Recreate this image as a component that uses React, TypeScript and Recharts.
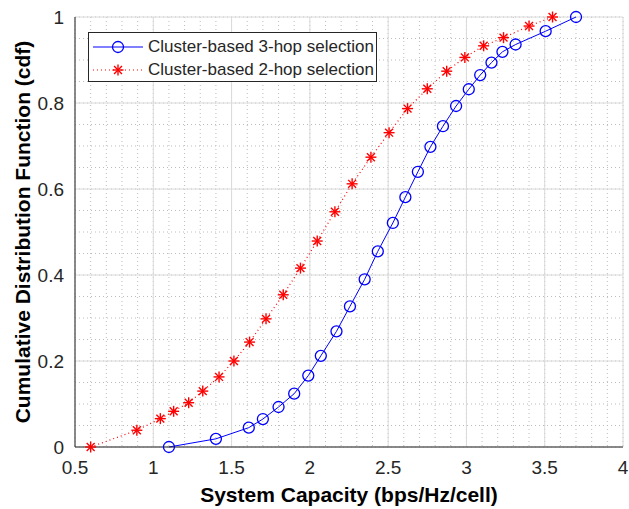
import React from "react";
import { LineChart, Line, XAxis, YAxis, CartesianGrid } from "recharts";

// Series values
const hop3Capacity = [1.1, 1.4, 1.61, 1.7, 1.8, 1.9, 1.99, 2.07, 2.17, 2.256, 2.35, 2.434, 2.53, 2.61, 2.69, 2.77, 2.85, 2.934, 3.015, 3.088, 3.16, 3.23, 3.314, 3.506, 3.7];
const hop3Cdf = [0, 0.019, 0.045, 0.065, 0.093, 0.124, 0.166, 0.212, 0.269, 0.327, 0.39, 0.455, 0.521, 0.581, 0.64, 0.698, 0.746, 0.793, 0.832, 0.865, 0.894, 0.919, 0.936, 0.967, 1.0];

const hop2Capacity = [0.6, 0.895, 1.045, 1.13, 1.226, 1.316, 1.42, 1.515, 1.615, 1.72, 1.83, 1.94, 2.047, 2.16, 2.27, 2.39, 2.506, 2.624, 2.75, 2.874, 2.99, 3.11, 3.237, 3.4, 3.55];
const hop2Cdf = [0, 0.039, 0.066, 0.083, 0.103, 0.13, 0.163, 0.2, 0.244, 0.298, 0.354, 0.416, 0.479, 0.547, 0.612, 0.674, 0.731, 0.787, 0.833, 0.874, 0.906, 0.933, 0.952, 0.979, 1.0];

const seriesNames = ["Cluster-based 3-hop selection", "Cluster-based 2-hop selection"];

// Ticks
const xDomain = [0.5, 4];
const yDomain = [0, 1];
const xTicks = [0.5, 1, 1.5, 2, 2.5, 3, 3.5, 4];
const yTicks = [0, 0.2, 0.4, 0.6, 0.8, 1];
const xMinorTicks = [0.5, 0.6, 0.7, 0.8, 0.9, 1, 1.1, 1.2, 1.3, 1.4, 1.5, 1.6, 1.7, 1.8, 1.9, 2, 2.1, 2.2, 2.3, 2.4, 2.5, 2.6, 2.7, 2.8, 2.9, 3, 3.1, 3.2, 3.3, 3.4, 3.5, 3.6, 3.7, 3.8, 3.9, 4];
const yMinorTicks = [0, 0.05, 0.1, 0.15, 0.2, 0.25, 0.3, 0.35, 0.4, 0.45, 0.5, 0.55, 0.6, 0.65, 0.7, 0.75, 0.8, 0.85, 0.9, 0.95, 1];

const hop3Data = hop3Capacity.map((x, i) => ({ x, y: hop3Cdf[i] }));
const hop2Data = hop2Capacity.map((x, i) => ({ x, y: hop2Cdf[i] }));

const FONT = "'Liberation Sans', Arial, Helvetica, sans-serif";
const AXIS = "#262626";
const BLUE = "#0000ff";
const RED = "#ff0000";

// posiciones de la rejilla menor usando la escala del eje
const minorVertical = ({ xAxis, offset }: any) =>
  xMinorTicks.map((v) =>
    xAxis && typeof xAxis.scale === "function"
      ? xAxis.scale(v)
      : offset.left + ((v - xDomain[0]) / (xDomain[1] - xDomain[0])) * offset.width
  );
const minorHorizontal = ({ yAxis, offset }: any) =>
  yMinorTicks.map((v) =>
    yAxis && typeof yAxis.scale === "function"
      ? yAxis.scale(v)
      : offset.top + (1 - (v - yDomain[0]) / (yDomain[1] - yDomain[0])) * offset.height
  );

// marcador circulo abierto
const CircleDot = (props: any) => {
  const { cx, cy, index } = props;
  if (cx == null || cy == null) return <g key={index} />;
  return <circle key={index} cx={cx} cy={cy} r={5.5} fill="none" stroke={BLUE} strokeWidth={1.3} />;
};

// marcador asterisco
const StarDot = (props: any) => {
  const { cx, cy, index } = props;
  if (cx == null || cy == null) return <g key={index} />;
  const s = 5.5;
  const d = s * 0.72;
  return (
    <g key={index} stroke={RED} strokeWidth={1.4}>
      <line x1={cx - s} y1={cy} x2={cx + s} y2={cy} />
      <line x1={cx} y1={cy - s} x2={cx} y2={cy + s} />
      <line x1={cx - d} y1={cy - d} x2={cx + d} y2={cy + d} />
      <line x1={cx - d} y1={cy + d} x2={cx + d} y2={cy - d} />
    </g>
  );
};

const LegendBox = () => (
  <div
    style={{
      position: "absolute",
      left: 88,
      top: 32,
      width: 287,
      height: 46,
      border: `1px solid ${AXIS}`,
      background: "#fff",
      fontFamily: FONT,
      fontSize: 17,
      color: "#262626",
      paddingTop: 2,
      boxSizing: "content-box",
    }}
  >
    {seriesNames.map((name, i) => (
      <div key={name} style={{ display: "flex", alignItems: "center", height: 23 }}>
        <svg width={50} height={14} style={{ marginLeft: 4, marginRight: 5 }}>
          {i === 0 ? (
            <>
              <line x1={0} y1={7} x2={50} y2={7} stroke={BLUE} strokeWidth={1} />
              <circle cx={25} cy={7} r={5.5} fill="none" stroke={BLUE} strokeWidth={1.3} />
            </>
          ) : (
            <>
              <line x1={0} y1={7} x2={50} y2={7} stroke={RED} strokeWidth={1.2} strokeDasharray="1 3" />
              <StarDot cx={25} cy={7} index={0} />
            </>
          )}
        </svg>
        <span>{name}</span>
      </div>
    ))}
  </div>
);

const App: React.FC = () => {
  return (
    <div style={{ position: "absolute", left: 0, top: 0, width: 629, height: 509, background: "#fff" }}>
      <LineChart width={629} height={509} margin={{ top: 17, right: 6, left: 0, bottom: 0 }}>
        {/* rejilla menor punteada y rejilla mayor */}
        <CartesianGrid
          xAxisId="x"
          yAxisId="y"
          verticalCoordinatesGenerator={minorVertical}
          horizontalCoordinatesGenerator={minorHorizontal}
          stroke="#bdbdbd"
          strokeDasharray="1 3"
        />
        <CartesianGrid xAxisId="x" yAxisId="y" stroke="#dadada" />

        <XAxis
          xAxisId="x"
          type="number"
          dataKey="x"
          domain={xDomain}
          ticks={xTicks}
          height={62}
          tickLine={false}
          tickSize={0}
          tickMargin={14}
          axisLine={{ stroke: AXIS }}
          tick={{ fill: "#262626", fontSize: 19, fontFamily: FONT }}
          label={{
            value: "System Capacity (bps/Hz/cell)",
            position: "insideBottom",
            offset: 7,
            style: { fill: "#000", fontSize: 21, fontWeight: "bold", fontFamily: FONT },
          }}
        />
        <YAxis
          yAxisId="y"
          type="number"
          dataKey="y"
          domain={yDomain}
          ticks={yTicks}
          width={75}
          tickLine={false}
          tickSize={0}
          tickMargin={11}
          axisLine={{ stroke: AXIS }}
          tick={{ fill: "#262626", fontSize: 19, fontFamily: FONT }}
          label={{
            value: "Cumulative Distribution Function (cdf)",
            angle: -90,
            position: "insideLeft",
            offset: 23,
            style: { textAnchor: "middle", fill: "#000", fontSize: 21, fontWeight: "bold", fontFamily: FONT },
          }}
        />

        {/* marcas interiores y marco */}
        <XAxis xAxisId="top" orientation="top" mirror height={0} type="number" domain={xDomain} ticks={xTicks} tick={false} tickSize={5} tickLine={{ stroke: AXIS }} axisLine={{ stroke: AXIS }} />
        <YAxis yAxisId="right" orientation="right" mirror width={0} type="number" domain={yDomain} ticks={yTicks} tick={false} tickSize={5} tickLine={{ stroke: AXIS }} axisLine={{ stroke: AXIS }} />

        <Line
          xAxisId="x"
          yAxisId="y"
          data={hop2Data}
          dataKey="y"
          name={seriesNames[1]}
          stroke={RED}
          strokeWidth={1.2}
          strokeDasharray="1 3"
          dot={StarDot}
          isAnimationActive={false}
        />
        <Line
          xAxisId="x"
          yAxisId="y"
          data={hop3Data}
          dataKey="y"
          name={seriesNames[0]}
          stroke={BLUE}
          strokeWidth={1}
          dot={CircleDot}
          isAnimationActive={false}
        />
      </LineChart>
      <LegendBox />
    </div>
  );
};

export default App;
